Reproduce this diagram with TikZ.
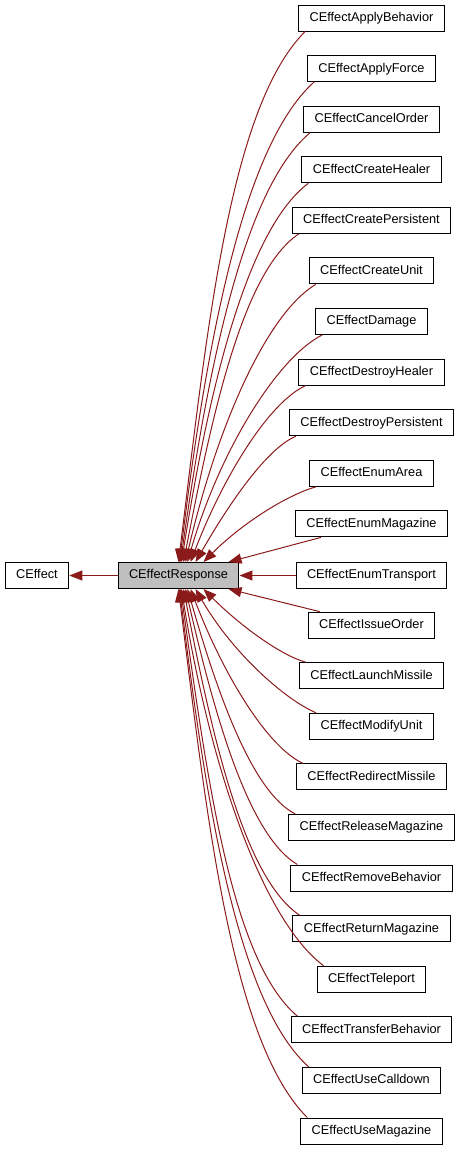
\documentclass[tikz,border=0pt]{standalone}
\usepackage{fontspec}
\setmainfont{Liberation Sans}
\usetikzlibrary{arrows.meta}
\definecolor{edgered}{RGB}{139,26,26}
\definecolor{boxgray}{RGB}{191,191,191}
\tikzset{
  cls/.style={draw=black, line width=1pt, fill=white, rectangle, minimum height=26pt, inner xsep=11pt, text height=9.5pt, text depth=2.7pt, font=\fontsize{12.75}{15}\selectfont},
  inherit/.style={<-, draw=edgered, line width=1pt},
  curl/.style={out looseness=1.1, in looseness=0.5},
}
\begin{document}
\begin{tikzpicture}[x=1pt, y=1pt, >={Triangle[length=13pt,width=10pt]}]
\useasboundingbox (0,0) rectangle (461,-1152);
\node[cls] (effect) at (37,-575.5) {CEffect};
\node[cls, fill=boxgray] (response) at (178.5,-575.5) {CEffectResponse};
\node[cls] (applybeh) at (371.5,-18) {CEffectApplyBehavior};
\node[cls] (applyforce) at (371.5,-68.6) {CEffectApplyForce};
\node[cls] (cancel) at (371.5,-119.2) {CEffectCancelOrder};
\node[cls] (crheal) at (371.5,-169.8) {CEffectCreateHealer};
\node[cls] (crpers) at (371.5,-220.4) {CEffectCreatePersistent};
\node[cls] (crunit) at (371.5,-270.9) {CEffectCreateUnit};
\node[cls] (damage) at (371.5,-321.5) {CEffectDamage};
\node[cls] (dsheal) at (371.5,-372.1) {CEffectDestroyHealer};
\node[cls] (dspers) at (371.5,-422.7) {CEffectDestroyPersistent};
\node[cls] (enarea) at (371.5,-473.3) {CEffectEnumArea};
\node[cls] (enmag) at (371.5,-523.9) {CEffectEnumMagazine};
\node[cls] (entrans) at (371.5,-575.5) {CEffectEnumTransport};
\node[cls] (issue) at (371.5,-625.1) {CEffectIssueOrder};
\node[cls] (launch) at (371.5,-675.7) {CEffectLaunchMissile};
\node[cls] (modify) at (371.5,-726.3) {CEffectModifyUnit};
\node[cls] (redirect) at (371.5,-776.9) {CEffectRedirectMissile};
\node[cls] (relmag) at (371.5,-827.4) {CEffectReleaseMagazine};
\node[cls] (rembeh) at (371.5,-878) {CEffectRemoveBehavior};
\node[cls] (retmag) at (371.5,-928.6) {CEffectReturnMagazine};
\node[cls] (teleport) at (371.5,-979.2) {CEffectTeleport};
\node[cls] (transfer) at (371.5,-1029.8) {CEffectTransferBehavior};
\node[cls] (calldown) at (371.5,-1080.4) {CEffectUseCalldown};
\node[cls] (usemag) at (371.5,-1131) {CEffectUseMagazine};
\draw[inherit] (effect) -- (response);
\draw[inherit] ([xshift=61pt]response.north west) to[out=83, in=225, curl] ([xshift=7pt]applybeh.south west);
\draw[inherit] ([xshift=62pt]response.north west) to[out=83, in=222, curl] ([xshift=7pt]applyforce.south west);
\draw[inherit] ([xshift=63pt]response.north west) to[out=82, in=220, curl] ([xshift=7pt]cancel.south west);
\draw[inherit] ([xshift=64pt]response.north west) to[out=81, in=217, curl] ([xshift=7pt]crheal.south west);
\draw[inherit] ([xshift=66pt]response.north west) to[out=79, in=214, curl] ([xshift=7pt]crpers.south west);
\draw[inherit] ([xshift=68pt]response.north west) to[out=77, in=211, curl] ([xshift=7pt]crunit.south west);
\draw[inherit] ([xshift=70pt]response.north west) to[out=74, in=207, curl] ([xshift=7pt]damage.south west);
\draw[inherit] ([xshift=73pt]response.north west) to[out=69, in=205, curl] ([xshift=7pt]dsheal.south west);
\draw[inherit] ([xshift=78pt]response.north west) to[out=60, in=203, curl] ([xshift=7pt]dspers.south west);
\draw[inherit] ([xshift=86pt]response.north west) to[out=45, in=195, curl] ([xshift=7pt]enarea.south west);
\draw[inherit] ([xshift=111pt]response.north west) -- ([xshift=26pt]enmag.south west);
\draw[inherit] (response) -- (entrans);
\draw[inherit] ([xshift=111pt]response.south west) -- ([xshift=12pt]issue.north west);
\draw[inherit] ([xshift=86pt]response.south west) to[out=-45, in=165, curl] ([xshift=7pt]launch.north west);
\draw[inherit] ([xshift=78pt]response.south west) to[out=-60, in=157, curl] ([xshift=7pt]modify.north west);
\draw[inherit] ([xshift=73pt]response.south west) to[out=-69, in=155, curl] ([xshift=7pt]redirect.north west);
\draw[inherit] ([xshift=70pt]response.south west) to[out=-74, in=153, curl] ([xshift=7pt]relmag.north west);
\draw[inherit] ([xshift=68pt]response.south west) to[out=-77, in=149, curl] ([xshift=7pt]rembeh.north west);
\draw[inherit] ([xshift=66pt]response.south west) to[out=-79, in=146, curl] ([xshift=7pt]retmag.north west);
\draw[inherit] ([xshift=64pt]response.south west) to[out=-81, in=143, curl] ([xshift=7pt]teleport.north west);
\draw[inherit] ([xshift=63pt]response.south west) to[out=-82, in=140, curl] ([xshift=7pt]transfer.north west);
\draw[inherit] ([xshift=62pt]response.south west) to[out=-83, in=138, curl] ([xshift=7pt]calldown.north west);
\draw[inherit] ([xshift=61pt]response.south west) to[out=-83, in=135, curl] ([xshift=7pt]usemag.north west);
\end{tikzpicture}
\end{document}
